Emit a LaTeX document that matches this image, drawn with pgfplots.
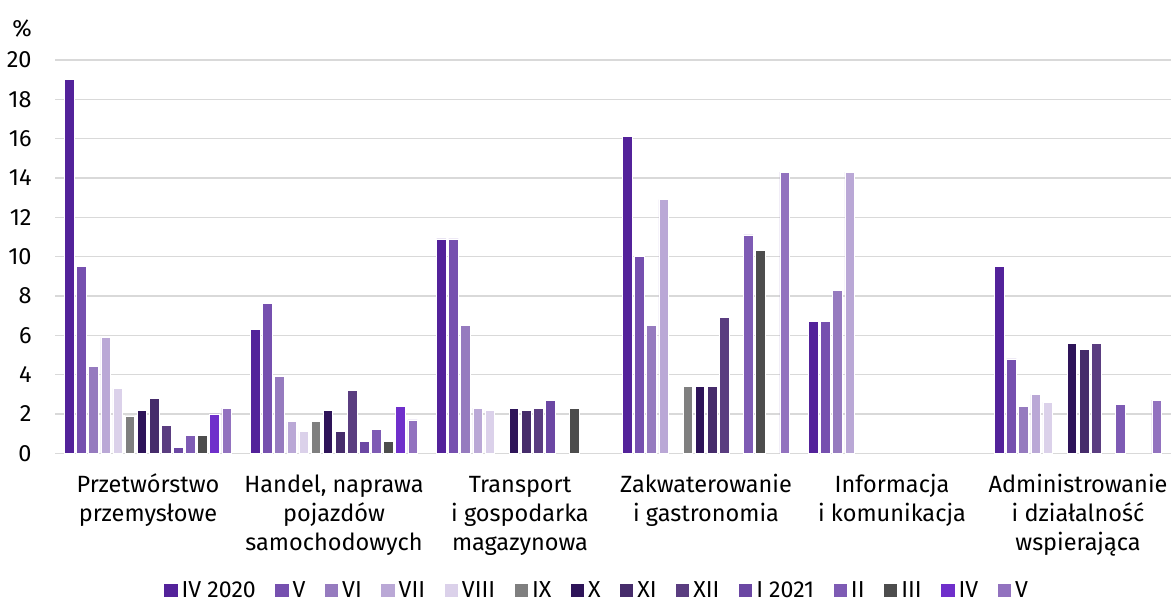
\documentclass[border=0pt]{standalone}
\usepackage{fontspec}
\setmainfont{Fira Sans}
\usepackage{pgfplots}
\pgfplotsset{compat=1.18}
\definecolor{c1}{HTML}{53229A}
\definecolor{c2}{HTML}{7650AF}
\definecolor{c3}{HTML}{967BBF}
\definecolor{c4}{HTML}{BAA8D6}
\definecolor{c5}{HTML}{DBD1EA}
\definecolor{c6}{HTML}{7F7F7F}
\definecolor{c7}{HTML}{2E1459}
\definecolor{c8}{HTML}{462C6B}
\definecolor{c9}{HTML}{5A3D80}
\definecolor{c10}{HTML}{6B47A3}
\definecolor{c11}{HTML}{7E5BB4}
\definecolor{c12}{HTML}{4D4D4D}
\definecolor{c13}{HTML}{6F2FCB}
\definecolor{c14}{HTML}{9272BF}
\definecolor{gridc}{HTML}{D9D9D9}
\begin{document}
\begin{tikzpicture}
\begin{axis}[
  scale only axis,
  width=558bp, height=196.7bp,
  xmin=-0.5, xmax=5.5, ymin=0, ymax=20,
  enlargelimits=false,
  clip=false,
  ybar=1.25bp, bar width=4.8bp,
  ytick={0,2,...,20},
  xtick={0,1,2,3,4,5},
  xticklabels={{\strut Przetwórstwo\\przemysłowe},{\strut Handel, naprawa\\pojazdów\\samochodowych},{\strut Transport\\i gospodarka\\magazynowa},{\strut Zakwaterowanie\\i gastronomia},{\strut Informacja\\i komunikacja},{\strut Administrowanie\\i działalność\\wspierająca}},
  font=\fontsize{11.8}{14.5}\selectfont,
  ticklabel style={font=\fontsize{11.8}{14.5}\selectfont},
  /pgf/number format/assume math mode=true,
  major tick length=0pt,
  xticklabel style={anchor=north, inner sep=0pt, yshift=-9.4bp, align=center},
  yticklabel style={anchor=east, inner sep=0pt, xshift=-11.5bp},
  ymajorgrids,
  grid style={draw=gridc, line width=0.75bp},
  axis x line*=bottom, axis y line*=left,
  x axis line style={draw=gridc, line width=0.75bp},
  y axis line style={draw=none},
  every axis plot/.append style={draw=white, line width=0.35bp},
  legend columns=14,
  legend style={draw=none, fill=none, at={(axis description cs:0.4866,-0.349)}, anchor=center,
    font=\fontsize{11.6}{14.5}\selectfont, inner sep=0pt,
    /tikz/every even column/.append style={column sep=7.7bp}},
  legend image code/.code={\fill[#1, draw=none] (0bp,-3.3bp) rectangle (6.7bp,3.3bp);},
]
\addplot[fill=c1] coordinates {(0,19.0)(1,6.3)(2,10.9)(3,16.1)(4,6.7)(5,9.5)};
\addplot[fill=c2] coordinates {(0,9.5)(1,7.6)(2,10.9)(3,10.0)(4,6.7)(5,4.8)};
\addplot[fill=c3] coordinates {(0,4.4)(1,3.9)(2,6.5)(3,6.5)(4,8.3)(5,2.4)};
\addplot[fill=c4] coordinates {(0,5.9)(1,1.6)(2,2.3)(3,12.9)(4,14.3)(5,3.0)};
\addplot[fill=c5] coordinates {(0,3.3)(1,1.1)(2,2.2)(5,2.6)};
\addplot[fill=c6] coordinates {(0,1.9)(1,1.6)(3,3.4)};
\addplot[fill=c7] coordinates {(0,2.2)(1,2.2)(2,2.3)(3,3.4)(5,5.6)};
\addplot[fill=c8] coordinates {(0,2.8)(1,1.1)(2,2.2)(3,3.4)(5,5.3)};
\addplot[fill=c9] coordinates {(0,1.4)(1,3.2)(2,2.3)(3,6.9)(5,5.6)};
\addplot[fill=c10] coordinates {(0,0.3)(1,0.6)(2,2.7)};
\addplot[fill=c11] coordinates {(0,0.9)(1,1.2)(3,11.1)(5,2.5)};
\addplot[fill=c12] coordinates {(0,0.9)(1,0.6)(2,2.3)(3,10.3)};
\addplot[fill=c13] coordinates {(0,2.0)(1,2.4)};
\addplot[fill=c14] coordinates {(0,2.3)(1,1.7)(3,14.3)(5,2.7)};
\legend{IV 2020,V,VI,VII,VIII,IX,X,XI,XII,I 2021,II,III,IV,V}
\node[inner sep=0pt] at (axis description cs:-0.0296,1.081) {\%};
\coordinate (bbA) at (axis description cs:-0.04928,-0.378);
\coordinate (bbB) at (axis description cs:1.00179,1.1523);
\end{axis}
\pgfresetboundingbox
\path (bbA) rectangle (bbB);
\end{tikzpicture}
\end{document}
